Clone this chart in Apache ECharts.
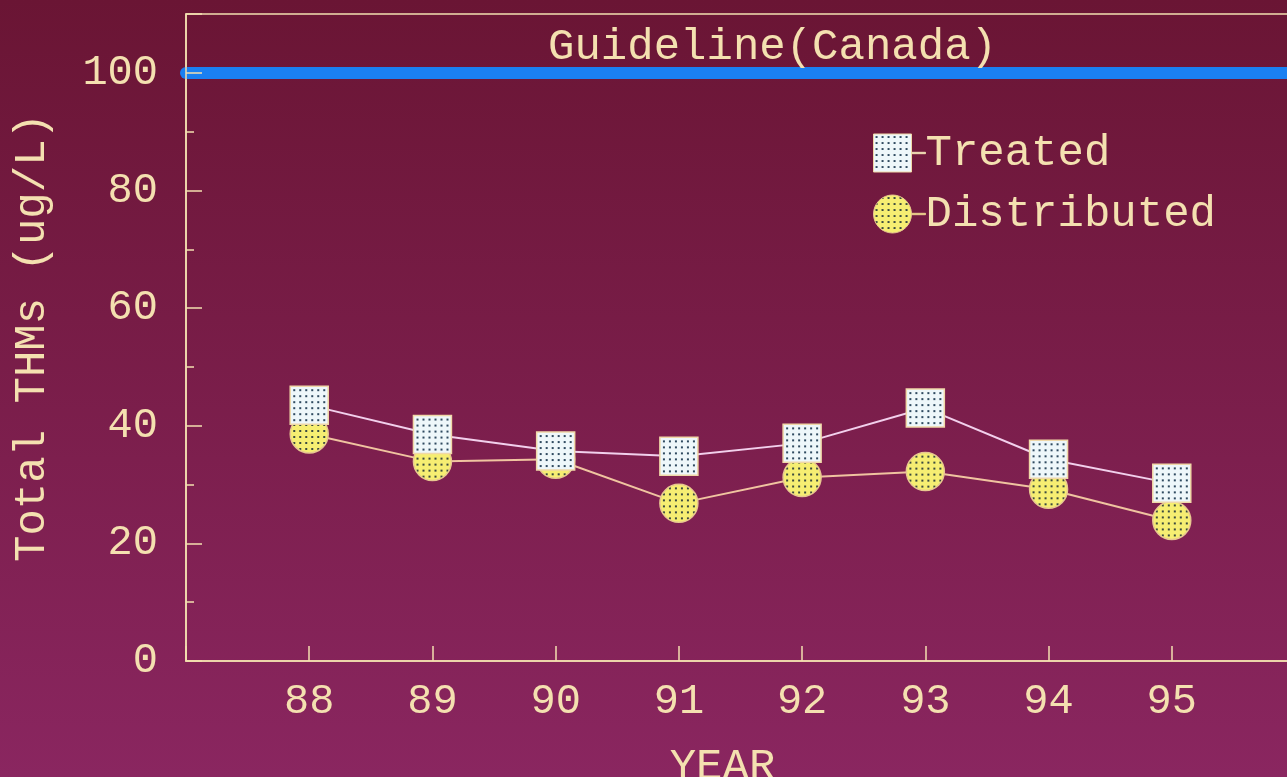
<!DOCTYPE html>
<html><head><meta charset="utf-8">
<script src="https://cdn.jsdelivr.net/npm/echarts@6/dist/echarts.min.js"></script>
<style>html,body{margin:0;padding:0;}#c{width:1287px;height:777px;}</style>
</head><body><div id="c"></div>
<script>
const years = [88, 89, 90, 91, 92, 93, 94, 95];
const treated = [43.5, 38.5, 35.7, 34.8, 37.0, 43.0, 34.3, 30.2];
const distributed = [38.6, 33.9, 34.3, 26.8, 31.2, 32.2, 29.2, 23.9];
const guidelineValue = 100;
const guidelineLabel = 'Guideline(Canada)';
const seriesNames = ['Treated', 'Distributed'];
const yTickLabels = ['0', '20', '40', '60', '80', '100'];

const cream = '#f4e0b0';
const font = 'Liberation Mono';
const SYM = 38;

function dotPattern(base, dot, scale) {
  const c = document.createElement('canvas');
  c.width = 6; c.height = 6;
  const g = c.getContext('2d');
  g.fillStyle = base; g.fillRect(0, 0, 6, 6);
  g.fillStyle = dot; g.fillRect(2, 2, 2, 2);
  return { image: c, repeat: 'repeat', scaleX: scale, scaleY: scale };
}
// series symbols are drawn at unit size and scaled by symbolSize/2, so the pattern is pre-shrunk
const sqFill = dotPattern('#eef7fa', '#2e4a60', 2 / SYM);
const ciFill = dotPattern('#f6ee72', '#3a4a40', 2 / SYM);
const sqFillLegend = dotPattern('#eef7fa', '#2e4a60', 1);
const ciFillLegend = dotPattern('#f6ee72', '#3a4a40', 1);

const sqIcon = 'path://M0,0H38V38H0Z M38,18.3H52V19.7H38Z';
const ciIcon = 'path://M19,0A19,19 0 1,1 19,38A19,19 0 1,1 19,0Z M38,18.3H52V19.7H38Z';

const chart = echarts.init(document.getElementById('c'));
chart.setOption({
  backgroundColor: {
    type: 'linear', x: 0, y: 0, x2: 0, y2: 1,
    colorStops: [{ offset: 0, color: '#6a1534' }, { offset: 1, color: '#8a2660' }]
  },
  animation: false,
  grid: { left: 186, top: 14, width: 1109, height: 647, containLabel: false, outerBoundsMode: 'none',
          show: true, borderColor: cream, borderWidth: 1.5, backgroundColor: 'transparent' },
  legend: {
    orient: 'vertical', left: 873, top: 131, padding: 0, itemWidth: 52, itemHeight: 38, itemGap: 17,
    data: [
      { name: seriesNames[0], icon: sqIcon, itemStyle: { color: sqFillLegend, borderColor: '#f0d8a8', borderWidth: 1 } },
      { name: seriesNames[1], icon: ciIcon, itemStyle: { color: ciFillLegend, borderColor: '#e8c890', borderWidth: 1 } }
    ],
    textStyle: { color: cream, fontFamily: font, fontSize: 44, lineHeight: 38, padding: [0, 0, 0, -5] }
  },
  xAxis: {
    type: 'value', min: 87, max: 96, interval: 1, z: 5,
    name: 'YEAR', nameLocation: 'middle', nameGap: 84,
    nameTextStyle: { color: cream, fontFamily: font, fontSize: 44, padding: [0, 36, 0, 0] },
    axisLine: { lineStyle: { color: cream, width: 1.5 } },
    axisTick: { inside: true, length: 15, lineStyle: { color: cream, width: 1.5 } },
    axisLabel: {
      color: cream, fontFamily: font, fontSize: 42, margin: 20,
      formatter: v => years.indexOf(v) >= 0 ? String(v) : ''
    },
    splitLine: { show: false }
  },
  yAxis: [{
    type: 'value', min: 0, max: 110, interval: 20, z: 5,
    name: 'Total THMs (ug/L)', nameLocation: 'middle', nameGap: 132,
    nameTextStyle: { color: cream, fontFamily: font, fontSize: 44 },
    axisLine: { show: true, lineStyle: { color: cream, width: 1.5 } },
    axisTick: { show: true, inside: true, length: 16, lineStyle: { color: cream, width: 1.5 } },
    axisLabel: {
      color: cream, fontFamily: font, fontSize: 42, margin: 28,
      formatter: v => yTickLabels.indexOf(String(v)) >= 0 ? String(v) : ''
    },
    splitLine: { show: false }
  }, {
    type: 'value', min: 0, max: 110, interval: 10, position: 'left', z: 5,
    axisLine: { show: false },
    axisTick: { show: true, inside: true, length: 8, lineStyle: { color: cream, width: 1.5 } },
    axisLabel: { show: false },
    splitLine: { show: false }
  }],
  series: [{
    name: seriesNames[1], type: 'line', z: 3,
    data: years.map((y, i) => [y, distributed[i]]),
    symbol: 'circle', symbolSize: SYM,
    itemStyle: { color: ciFill, borderColor: '#e8c890', borderWidth: 1.5 },
    lineStyle: { color: '#f0c4a0', width: 2 },
    markLine: {
      silent: true, symbol: 'none', z: 1,
      data: [{ yAxis: guidelineValue }],
      lineStyle: { color: '#1a80f2', width: 12, type: 'solid', cap: 'round' },
      label: {
        show: true, position: 'insideMiddleTop', formatter: guidelineLabel, distance: 3,
        color: cream, fontFamily: font, fontSize: 44, padding: [0, 0, 0, 64]
      }
    }
  }, {
    name: seriesNames[0], type: 'line', z: 4,
    data: years.map((y, i) => [y, treated[i]]),
    symbol: 'rect', symbolSize: SYM,
    itemStyle: { color: sqFill, borderColor: '#f0d8a8', borderWidth: 1.5 },
    lineStyle: { color: '#f2d0ec', width: 2 }
  }]
});
</script>
</body></html>
